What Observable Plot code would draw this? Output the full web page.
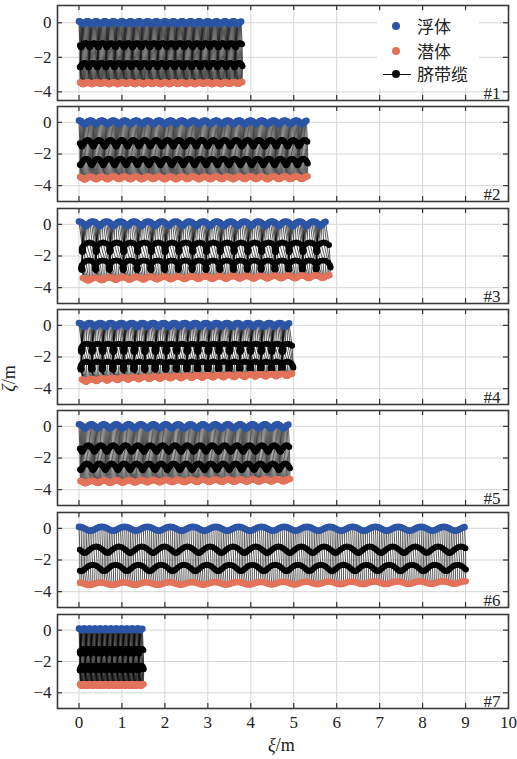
<!DOCTYPE html>
<html>
<head>
<meta charset="utf-8">
<script src="https://cdn.jsdelivr.net/npm/d3@7"></script>
<script src="https://cdn.jsdelivr.net/npm/@observablehq/plot@0.6"></script>
<style>
  body { margin: 0; background: #fff; }
  #fig { position: relative; width: 517px; height: 759px; font-family: "Liberation Serif", "DejaVu Serif", serif; color: #222; }
  #fig svg { position: absolute; left: 0; overflow: visible; }
  #fig svg text { font-family: "Liberation Serif", "DejaVu Serif", serif !important; }
  .axis-label { position: absolute; font-size: 18px; white-space: nowrap; font-family: "Liberation Serif", "DejaVu Serif", serif; }
  .legend { position: absolute; left: 377px; top: 12px; width: 102px; height: 76px; background: #fff; }
  .legend .item { position: absolute; left: 0; height: 20px; width: 102px; }
  .legend .txt { position: absolute; left: 40px; top: 0; font-family: "Noto Sans CJK SC", sans-serif; font-size: 17px; line-height: 20px; color: #222; }
  .legend .dot { position: absolute; left: 15px; top: 6px; width: 8px; height: 8px; border-radius: 50%; }
  .legend .rule { position: absolute; left: 6px; top: 9.5px; width: 28px; height: 1.2px; background: #111; }
</style>
</head>
<body>
<div id="fig"></div>
<script>
// Float / umbilical / submerged-body snapshots for seven runs (#1–#7).
const panelNames = ["#1", "#2", "#3", "#4", "#5", "#6", "#7"];
// horizontal travel of the float at the last snapshot (m)
const runLength = [3.78, 5.30, 5.75, 4.90, 4.88, 8.98, 1.48];
// number of wave periods covered by each run
const waveCycles = [19, 20, 18, 20, 17, 17, 12];
// float: mean heave level and heave / surge excursions (m)
const floatLevel = [0.00, 0.00, 0.04, 0.02, 0.00, -0.03, 0.05];
const floatHeave = [0.08, 0.12, 0.14, 0.12, 0.13, 0.12, 0.05];
const floatSurge = [0.01, 0.01, 0.02, 0.02, 0.01, 0.01, 0.01];
// cable nodes: mean depths, heave excursions and horizontal swing (m)
const node1Depth = [-1.30, -1.32, -1.45, -1.42, -1.40, -1.35, -1.35];
const node2Depth = [-2.45, -2.50, -2.58, -2.55, -2.55, -2.50, -2.42];
const nodeHeave  = [0.12, 0.20, 0.30, 0.26, 0.20, 0.20, 0.15];
const nodeSwing  = [0.02, 0.02, 0.08, 0.07, 0.02, 0.02, 0.02];
// submerged body: horizontal lead over the float and heave excursion (m)
const subLead  = [0.02, 0.02, 0.08, 0.06, 0.03, 0.02, 0.02];
const subHeave = [0.05, 0.08, 0.08, 0.07, 0.07, 0.08, 0.05];
// submerged body mean depth in each wave period (m)
const subDepth = [
  [-3.50, -3.50, -3.49, -3.50, -3.50, -3.49, -3.50, -3.50, -3.49, -3.50, -3.50, -3.49, -3.50, -3.50, -3.49, -3.50, -3.50, -3.49, -3.48],
  [-3.52, -3.51, -3.51, -3.50, -3.51, -3.51, -3.50, -3.51, -3.51, -3.50, -3.51, -3.51, -3.50, -3.51, -3.50, -3.50, -3.51, -3.50, -3.50, -3.49],
  [-3.46, -3.44, -3.42, -3.41, -3.40, -3.39, -3.38, -3.37, -3.36, -3.36, -3.35, -3.34, -3.34, -3.33, -3.32, -3.32, -3.31, -3.30],
  [-3.48, -3.44, -3.41, -3.38, -3.35, -3.33, -3.31, -3.29, -3.27, -3.26, -3.24, -3.23, -3.21, -3.20, -3.19, -3.18, -3.16, -3.15, -3.14, -3.12],
  [-3.52, -3.50, -3.49, -3.48, -3.47, -3.46, -3.46, -3.45, -3.45, -3.44, -3.44, -3.43, -3.43, -3.42, -3.42, -3.41, -3.40],
  [-3.50, -3.50, -3.49, -3.49, -3.48, -3.48, -3.47, -3.47, -3.46, -3.46, -3.45, -3.45, -3.44, -3.44, -3.43, -3.43, -3.42],
  [-3.50, -3.50, -3.50, -3.50, -3.50, -3.50, -3.50, -3.50, -3.50, -3.50, -3.50, -3.50]
];
// normalised heave / surge over one wave period, 12 snapshots per period
const heaveShape = [1.00, 0.87, 0.50, 0.00, -0.50, -0.87, -1.00, -0.87, -0.50, 0.00, 0.50, 0.87];
const surgeShape = [0.00, 0.50, 0.87, 1.00, 0.87, 0.50, 0.00, -0.50, -0.87, -1.00, -0.87, -0.50];

const xTicks = [0, 1, 2, 3, 4, 5, 6, 7, 8, 9, 10];
const yTicks = [0, -2, -4];

const colFloat = "#2c55a6";
const colSub = "#e2735a";
const serif = "Liberation Serif, DejaVu Serif, serif";

// one row per cable point: part 0 float, 1–2 cable nodes, 3 submerged body
function cableRows(p) {
  const rows = [];
  const steps = heaveShape.length;
  const total = waveCycles[p] * steps;
  for (let j = 0; j < total; j++) {
    const c = Math.floor(j / steps), k = j % steps;
    const xf = runLength[p] * j / (total - 1);
    const k1 = (k + 3) % steps, k2 = (k + 5) % steps, k3 = (k + 1) % steps;
    rows.push({snap: j, part: 0, x: xf + floatSurge[p] * surgeShape[k], y: floatLevel[p] + floatHeave[p] * heaveShape[k]});
    rows.push({snap: j, part: 1, x: xf + nodeSwing[p] * surgeShape[k1], y: node1Depth[p] + nodeHeave[p] * heaveShape[k1]});
    rows.push({snap: j, part: 2, x: xf + subLead[p] * 0.5 + nodeSwing[p] * surgeShape[k2], y: node2Depth[p] + nodeHeave[p] * heaveShape[k2]});
    rows.push({snap: j, part: 3, x: xf + subLead[p] + floatSurge[p] * surgeShape[k3], y: subDepth[p][c] + subHeave[p] * heaveShape[k3]});
  }
  return rows;
}

const frameTops = [5, 106, 208, 309, 410, 512, 614];
const frameH = [95, 95, 95, 95, 95, 95, 94];
const fig = document.getElementById("fig");

panelNames.forEach((name, p) => {
  const last = p === panelNames.length - 1;
  const rows = cableRows(p);
  const mt = 2, mb = last ? 52 : 2;
  const inner = frameH[p];
  const chart = Plot.plot({
    width: 517,
    height: mt + inner + mb,
    marginLeft: 57, marginRight: 9, marginTop: mt, marginBottom: mb,
    x: {domain: [-0.5, 10], axis: last ? undefined : null},
    y: {domain: p === 0 ? [-4.5, 1] : [-5, 1], axis: null},
    style: {fontFamily: serif, fontSize: "17px", background: "transparent", color: "#222"},
    marks: [
      Plot.gridX(xTicks, {stroke: "#d6d6d6", strokeOpacity: 1, strokeWidth: 1}),
      Plot.gridY(yTicks, {stroke: "#d6d6d6", strokeOpacity: 1, strokeWidth: 1}),
      Plot.line(rows, {x: "x", y: "y", z: "snap", stroke: "#000", strokeWidth: 0.65, strokeOpacity: 1}),
      Plot.dot(rows.filter(d => d.part === 1 || d.part === 2), {x: "x", y: "y", r: 3, fill: "#000", stroke: "none"}),
      Plot.dot(rows.filter(d => d.part === 3), {x: "x", y: "y", r: 3.3, fill: colSub, stroke: "none"}),
      Plot.dot(rows.filter(d => d.part === 0), {x: "x", y: "y", r: 3.3, fill: colFloat, stroke: "none"}),
      // inward ticks on all four sides
      Plot.tickX(xTicks, {x: d => d, insetBottom: inner - 5, stroke: "#333", strokeWidth: 1.2}),
      Plot.tickX(xTicks, {x: d => d, insetTop: inner - 5, stroke: "#333", strokeWidth: 1.2}),
      Plot.tickY(yTicks, {y: d => d, insetRight: 451 - 5, stroke: "#333", strokeWidth: 1.2}),
      Plot.tickY(yTicks, {y: d => d, insetLeft: 451 - 5, stroke: "#333", strokeWidth: 1.2}),
      Plot.axisY(yTicks, {tickSize: 0, tickPadding: 6, label: null, fontSize: 17, fontFamily: serif}),
      last ? Plot.axisX(xTicks, {tickSize: 0, tickPadding: 7, label: null, fontSize: 17, fontFamily: serif}) : null,
      Plot.text([name], {frameAnchor: "bottom-right", dx: -8, dy: -2, fontSize: 17, fontFamily: serif, fill: "#222"}),
      Plot.frame({stroke: "#3a3a3a", strokeWidth: 1.6})
    ]
  });
  chart.style.top = (frameTops[p] - mt) + "px";
  fig.appendChild(chart);
});

// legend inside run #1
const legend = document.createElement("div");
legend.className = "legend";
legend.innerHTML = `
  <div class="item" style="top:4px"><span class="dot" style="background:${colFloat}"></span><span class="txt">浮体</span></div>
  <div class="item" style="top:29px"><span class="dot" style="background:${colSub}"></span><span class="txt">潜体</span></div>
  <div class="item" style="top:52px"><span class="rule"></span><span class="dot" style="background:#111"></span><span class="txt">脐带缆</span></div>`;
fig.appendChild(legend);

// axis titles
const yLab = document.createElement("div");
yLab.className = "axis-label";
yLab.innerHTML = "<i>ζ</i>/m";
yLab.style.left = "-4px";
yLab.style.top = "368px";
yLab.style.transform = "rotate(-90deg)";
fig.appendChild(yLab);

const xLab = document.createElement("div");
xLab.className = "axis-label";
xLab.innerHTML = "<i>ξ</i>/m";
xLab.style.left = "268px";
xLab.style.top = "735px";
fig.appendChild(xLab);
</script>
</body>
</html>
